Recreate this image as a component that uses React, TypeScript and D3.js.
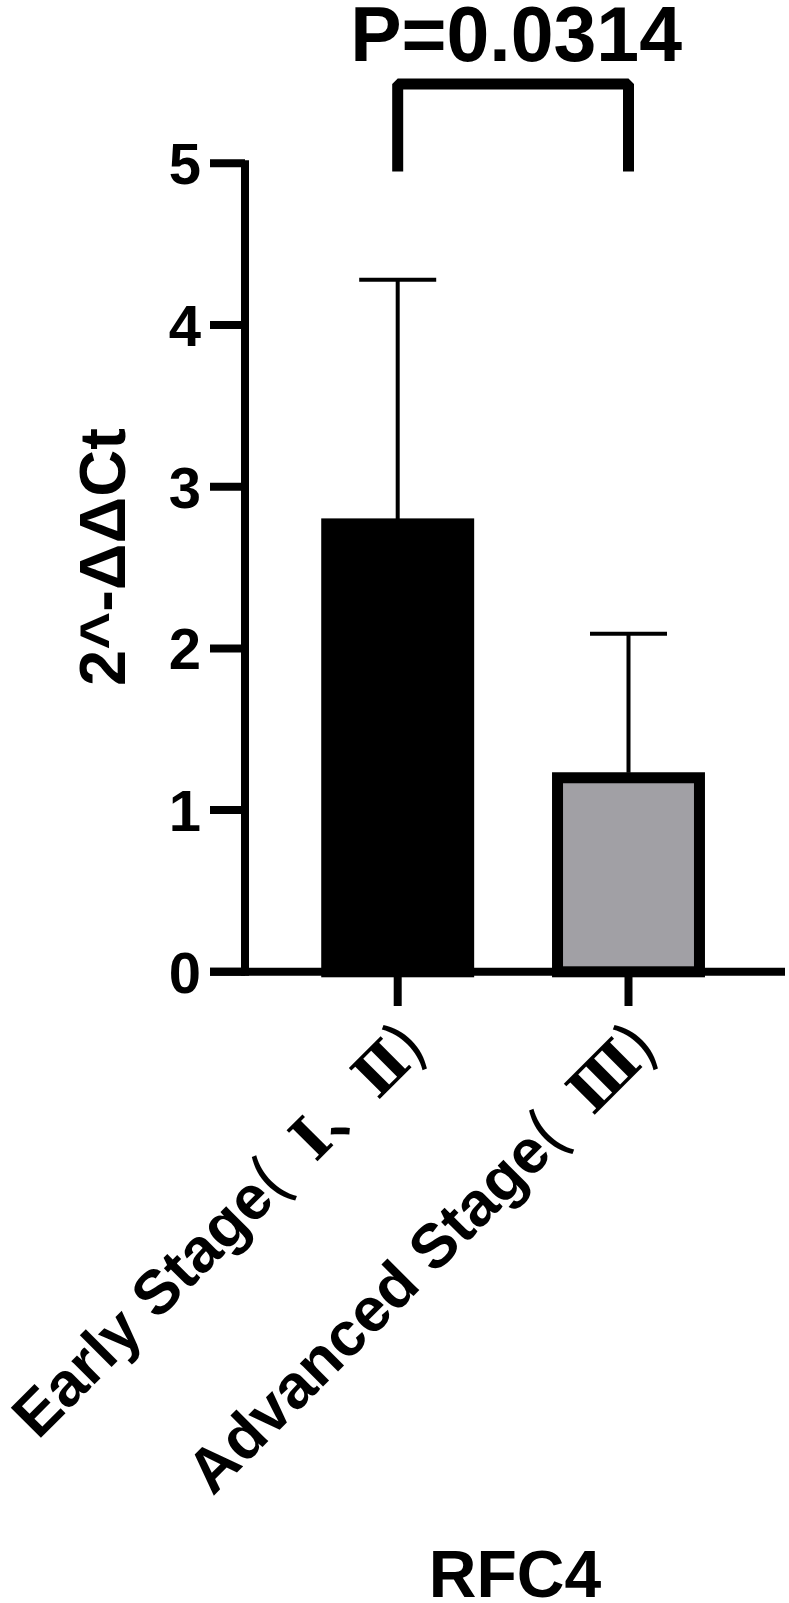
import React from 'react';
import * as d3 from 'd3';

// chart values
const categories = ['Early Stage( Ⅰ、Ⅱ)', 'Advanced Stage( Ⅲ)'];
const means = [2.77, 1.2];
const sems = [1.51, 0.89];
const barColors = ['#000000', '#a1a0a5'];
const yTicks = [0, 1, 2, 3, 4, 5];
const yLabel = '2^-ΔΔCt';
const xTitle = 'RFC4';
const pLabel = 'P=0.0314';
const bracketTop = 5.49;
const bracketFoot = 4.95;

const W = 789;
const H = 1603;
const FONT = '"Liberation Sans", Arial, Helvetica, sans-serif';
const CJK_FONT = '"Noto Sans CJK SC", "Noto Sans CJK JP", sans-serif';
const ROMAN_FONT = '"DejaVu Serif", serif';

// split a label into runs: latin words, roman numerals, CJK punctuation / parens
const splitLabel = (s: string) => {
  const i = s.indexOf('(');
  const head = i < 0 ? s : s.slice(0, i);
  const tail = i < 0 ? '' : s.slice(i);
  const runs: { text: string; kind: string }[] = [{ text: head, kind: 'latin' }];
  tail.split(/([Ⅰ-Ⅻ]+)/).filter((p) => p.length > 0).forEach((p) => {
    runs.push({ text: p, kind: /[Ⅰ-Ⅻ]/.test(p) ? 'roman' : 'cjk' });
  });
  return runs;
};

const App = () => {
  const ref = React.useRef<SVGSVGElement>(null);

  React.useEffect(() => {
    const svg = d3.select(ref.current);
    svg.selectAll('*').remove();

    const y = d3.scaleLinear().domain([0, 5]).range([971.8, 163.3]);
    const x = d3.scaleBand().domain(categories).range([282.3, 743.9]);
    const barW = x.bandwidth() * 0.615;
    const cx = (c: string) => (x(c) as number) + x.bandwidth() / 2;
    const axisX = 245;
    const axisW = 8;

    const g = svg.append('g');

    // bars
    g.selectAll('rect.bar')
      .data(categories)
      .join('rect')
      .attr('class', 'bar')
      .attr('x', (d) => cx(d) - barW / 2)
      .attr('width', barW)
      .attr('y', (d, i) => y(means[i]))
      .attr('height', (d, i) => y(0) - y(means[i]))
      .attr('fill', (d, i) => barColors[i])
      .attr('stroke', '#000')
      .attr('stroke-width', 11);

    // error bars (upper only)
    const eb = g.selectAll('g.err').data(categories).join('g').attr('class', 'err');
    eb.append('line')
      .attr('x1', (d) => cx(d))
      .attr('x2', (d) => cx(d))
      .attr('y1', (d, i) => y(means[i]) - 5)
      .attr('y2', (d, i) => y(means[i] + sems[i]))
      .attr('stroke', '#000')
      .attr('stroke-width', 4);
    eb.append('line')
      .attr('x1', (d) => cx(d) - 38.5)
      .attr('x2', (d) => cx(d) + 38.5)
      .attr('y1', (d, i) => y(means[i] + sems[i]))
      .attr('y2', (d, i) => y(means[i] + sems[i]))
      .attr('stroke', '#000')
      .attr('stroke-width', 4);

    // y axis
    g.append('line')
      .attr('x1', axisX).attr('x2', axisX)
      .attr('y1', y(5) - 3).attr('y2', y(0) + 4)
      .attr('stroke', '#000').attr('stroke-width', axisW);
    g.selectAll('line.ytick')
      .data(yTicks)
      .join('line')
      .attr('class', 'ytick')
      .attr('x1', 210).attr('x2', axisX)
      .attr('y1', (d) => y(d)).attr('y2', (d) => y(d))
      .attr('stroke', '#000').attr('stroke-width', axisW);
    g.selectAll('text.ylab')
      .data(yTicks)
      .join('text')
      .attr('class', 'ylab')
      .attr('x', 201)
      .attr('y', (d) => y(d) + 21)
      .attr('text-anchor', 'end')
      .attr('font-family', FONT)
      .attr('font-weight', 'bold')
      .attr('font-size', 58)
      .text((d) => d);

    // x axis
    g.append('line')
      .attr('x1', 210).attr('x2', 785)
      .attr('y1', y(0)).attr('y2', y(0))
      .attr('stroke', '#000').attr('stroke-width', axisW);
    g.selectAll('line.xtick')
      .data(categories)
      .join('line')
      .attr('class', 'xtick')
      .attr('x1', (d) => cx(d)).attr('x2', (d) => cx(d))
      .attr('y1', y(0)).attr('y2', 1006)
      .attr('stroke', '#000').attr('stroke-width', axisW);

    // rotated category labels
    const xl = g.selectAll('text.xlab')
      .data(categories)
      .join('text')
      .attr('class', 'xlab')
      .attr('text-anchor', 'end')
      .attr('font-family', FONT)
      .attr('font-weight', 'bold')
      .attr('font-size', 62)
      .attr('transform', (d) => `translate(${cx(d) + 31},${1050}) rotate(-45)`);
    xl.each(function (d) {
      const t = d3.select(this);
      let firstRoman = true;
      splitLabel(d).forEach((run) => {
        const sp = t.append('tspan').text(run.text);
        if (run.kind === 'roman') {
          sp.attr('font-family', ROMAN_FONT).attr('font-weight', 'bold').attr('font-size', 60);
          if (firstRoman) sp.attr('dx', 20);
          firstRoman = false;
        } else if (run.kind === 'cjk') {
          sp.attr('font-family', CJK_FONT).attr('font-weight', 500).attr('font-size', 60);
        }
      });
    });

    // y axis title
    g.append('text')
      .attr('transform', `translate(125,557) rotate(-90)`)
      .attr('text-anchor', 'middle')
      .attr('font-family', FONT)
      .attr('font-weight', 'bold')
      .attr('font-size', 65)
      .text(yLabel);

    // x title
    g.append('text')
      .attr('x', 515)
      .attr('y', 1597)
      .attr('text-anchor', 'middle')
      .attr('font-family', FONT)
      .attr('font-weight', 'bold')
      .attr('font-size', 66)
      .text(xTitle);

    // significance bracket
    const x1 = cx(categories[0]);
    const x2 = cx(categories[1]);
    g.append('path')
      .attr('d', `M${x1},${y(bracketFoot)}V${y(bracketTop)}H${x2}V${y(bracketFoot)}`)
      .attr('fill', 'none')
      .attr('stroke', '#000')
      .attr('stroke-width', 11)
      .attr('stroke-linejoin', 'bevel');
    g.append('text')
      .attr('x', (x1 + x2) / 2 + 3)
      .attr('y', 61)
      .attr('text-anchor', 'middle')
      .attr('font-family', FONT)
      .attr('font-weight', 'bold')
      .attr('font-size', 77)
      .text(pLabel);
  }, []);

  return (
    <svg
      ref={ref}
      width={W}
      height={H}
      viewBox={`0 0 ${W} ${H}`}
      style={{ position: 'absolute', left: 0, top: 0, background: '#fff' }}
    />
  );
};

export default App;
